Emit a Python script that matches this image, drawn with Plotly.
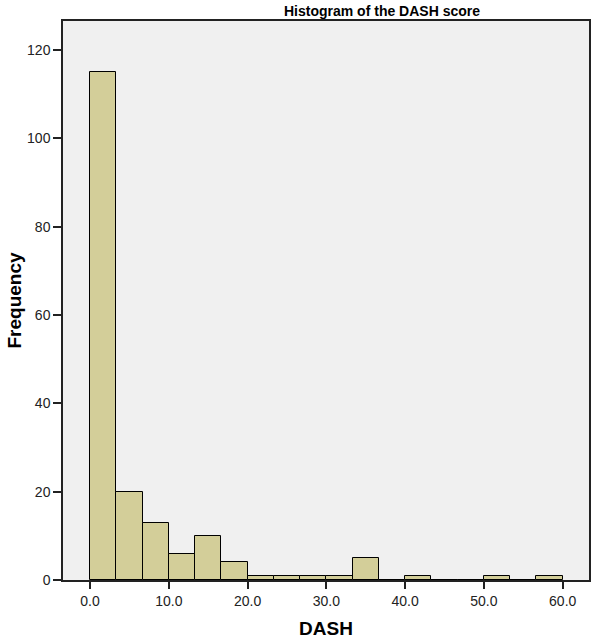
import plotly.graph_objects as go

# histogram bins of the DASH score (width 60/18)
bin_starts = [0.0, 3.333, 6.667, 10.0, 13.333, 16.667, 20.0, 23.333, 26.667,
              30.0, 33.333, 36.667, 40.0, 43.333, 46.667, 50.0, 53.333, 56.667]
bin_width = 60.0 / 18
counts = [115, 20, 13, 6, 10, 4, 1, 1, 1, 1, 5, 0, 1, 0, 0, 1, 0, 1]

x_ticks = [0, 10, 20, 30, 40, 50, 60]
y_ticks = [0, 20, 40, 60, 80, 100, 120]

centers = [s + bin_width / 2 for s in bin_starts]

font_name = 'Liberation Sans, Arial'

fig = go.Figure()
fig.add_trace(go.Bar(
    x=centers,
    y=counts,
    width=[bin_width] * len(counts),
    marker=dict(color='rgb(211,206,153)', line=dict(color='black', width=1)),
    showlegend=False
))

fig.update_xaxes(
    range=[-3.43, 63.34],
    tickvals=x_ticks,
    ticktext=["%.1f" % v for v in x_ticks],
    ticks='outside', ticklen=7, tickwidth=1.5, tickcolor='#222',
    showline=True, linecolor='#222', linewidth=1.5, mirror=True,
    showgrid=False, zeroline=False, automargin=False,
    tickfont=dict(family=font_name, size=14, color='#222'),
    title=dict(text='<b>DASH</b>', font=dict(family=font_name, size=19, color='black'), standoff=14)
)
fig.update_yaxes(
    range=[0, 126.6],
    tickvals=y_ticks,
    ticks='outside', ticklen=8, tickwidth=1.5, tickcolor='#222',
    showline=True, linecolor='#222', linewidth=1.5, mirror=True,
    showgrid=False, zeroline=False, automargin=False,
    tickfont=dict(family=font_name, size=14, color='#222'),
    title=dict(text='<b>Frequency</b>', font=dict(family=font_name, size=19, color='black'), standoff=0)
)

fig.update_layout(
    width=600, height=644,
    margin=dict(l=63, r=11, t=21, b=64),
    paper_bgcolor='white',
    plot_bgcolor='#F0F0F0',
    bargap=0,
    annotations=[dict(
        text='<b>Histogram of the DASH score</b>',
        x=0.606, y=1, xref='paper', yref='paper',
        xanchor='center', yanchor='bottom', yshift=0,
        showarrow=False,
        font=dict(family=font_name, size=14, color='black')
    )]
)

# drop the browser's default 8px body margin so the figure sits at 0,0
fig.write_html("out.html", config={'displayModeBar': False},
               post_script="document.body.style.margin='0';")
